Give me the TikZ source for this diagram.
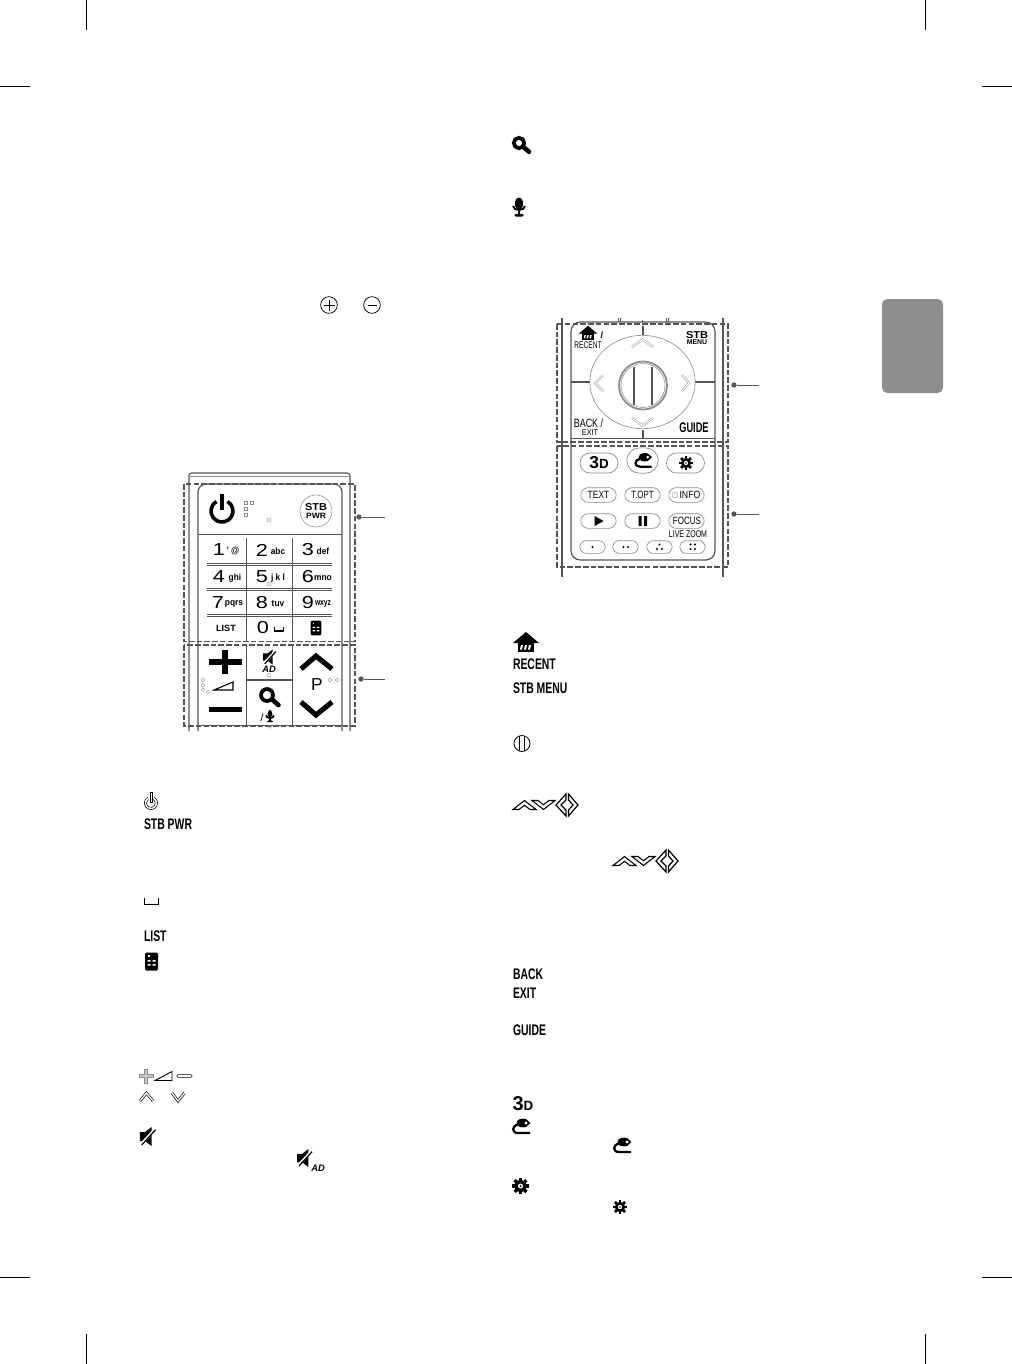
\documentclass[tikz,border=0pt]{standalone}
\usepackage{fontspec}
\setmainfont{Liberation Sans}
\usetikzlibrary{shapes.geometric,shapes.misc}
\definecolor{tabgray}{HTML}{8F8E8E}
\definecolor{linegray}{HTML}{555555}
\definecolor{softgray}{HTML}{8A8A8A}
\newcommand{\fs}[1]{\fontsize{#1}{#1}\selectfont}
\tikzset{
 crop/.style={draw=black,line width=.75pt},
 dashbox/.style={draw=linegray,line width=.9pt,dash pattern=on 4.2pt off 1.6pt},
 rem/.style={draw=linegray,line width=.9pt},
 remthin/.style={draw=linegray,line width=.55pt},
 softl/.style={draw=softgray,line width=.4pt},
 softchev/.style={draw=softgray,line width=.35pt,double=white,double distance=.9pt},
 blackchev/.style={draw=black,line width=.5pt,double=white,double distance=1pt,miter limit=4},
 txt/.style={inner sep=0pt,outer sep=0pt},
 lbl/.style={txt,anchor=west,font=\bfseries\fs{11.5},xscale=.68,transform shape},
 keytxt/.style={txt,font=\fs{13},xscale=1.25,transform shape},
 keysub/.style={txt,font=\bfseries\fs{6.8},xscale=.92,transform shape},
 ldot/.style={circle,fill=linegray,inner sep=0pt,minimum size=4pt},
 leader/.style={draw=linegray,line width=.6pt},
 pill/.style={draw=softgray,line width=.5pt,rounded rectangle,inner sep=0pt},
 tiny/.style={circle,draw=softgray,line width=.3pt,inner sep=0pt,minimum size=3pt},
 powersolid/.pic={
   \draw[line width=2.7pt] (5.5,-9.5) arc[start angle=-60,end angle=240,radius=11];
   \draw[line width=3.2pt] (0,-17) -- (0,-1);
 },
 poweroutline/.pic={
   \draw[line width=.4pt] (3.3,-5.7) arc[start angle=-60,end angle=240,radius=6.6];
   \draw[line width=.4pt] (2.4,-3.6) arc[start angle=-56,end angle=236,radius=4.4];
   \draw[line width=.4pt,fill=white] (-1,-10.5) rectangle (1,-.5);
 },
 book/.pic={
   \fill[rounded corners=1pt] (-6.5,-9) rectangle (6.5,9);
   \fill[white] (-4,-6.5) rectangle (-2,-4.5);
   \fill[white] (-4,-1.5) rectangle (-1,.2) (1,-1.5) rectangle (4,.2);
   \fill[white] (-4,2.5) rectangle (-1,4.2) (1,2.5) rectangle (4,4.2);
 },
 spacegl/.pic={\draw[line width=1pt] (-7,-3.5) -- (-7,3.2) -- (7,3.2) -- (7,-3.5);},
 mute/.pic={
   \fill (-8,-5) -- (-2,-5) -- (5,-10.5) -- (5,10.5) -- (-2,5) -- (-8,5) -- cycle;
   \draw[white,line width=2pt] (-6,8) -- (9,-8);
   \draw[line width=.9pt] (-6,9.5) -- (9.5,-7.5);
 },
 magnifier/.pic={
   \draw[line width=2.8pt] (0,0) circle (5.2);
   \draw[line width=3.4pt,line cap=round] (4.8,4.2) -- (10,8.8);
 },
 micro/.pic={
   \fill[rounded corners=3pt] (-4,-10) rectangle (4,3);
   \draw[line width=1.4pt] (-6.3,-1) .. controls (-6,4.5) and (6,4.5) .. (6.3,-1);
   \fill (-1.2,4) rectangle (1.2,8);
   \fill[rounded corners=1pt] (-5,7.5) rectangle (5,10);
 },
 home/.pic={
   \fill (-13,1) -- (0,-10) -- (13,1) -- cycle;
   \fill (-8,0) rectangle (8,10);
   \foreach \i in {-4,0,4} {\fill[white] (\i-1,3) -- (\i+1,3) -- (\i,7.5) -- (\i-2,7.5) -- cycle;}
 },
 ring/.pic={
   \draw[line width=.6pt] (0,0) circle (8);
   \draw[line width=.5pt] (-2.5,-7.5) -- (-2.5,7.5) (2.5,-7.5) -- (2.5,7.5);
 },
 avgl/.pic={
   \draw[line width=.8pt,miter limit=6] (0,4.5) -- (11.5,-4.5) -- (23,4.5) -- (17,4.5) -- (11.5,.3) -- (6,4.5) -- cycle;
   \draw[line width=.8pt,miter limit=6] (19,-4.5) -- (25,-4.5) -- (30.5,-.3) -- (36,-4.5) -- (42,-4.5) -- (30.5,4.5) -- cycle;
   \draw[line width=.9pt] (53,-11) -- (43,0) -- (53,11) -- (53,5) -- (48,0) -- (53,-5) -- cycle;
   \draw[line width=.9pt] (55.5,-11) -- (65,0) -- (55.5,11) -- (55.5,5) -- (60,0) -- (55.5,-5) -- cycle;
 },
 gearic/.pic={
   \fill (0,0) circle (6);
   \foreach \a in {0,45,...,135} {\fill[rotate=\a] (-1.6,-8.3) rectangle (1.6,8.3);}
   \fill[white] (0,0) circle (2.5);
   \fill (0,0) circle (1);
 },
 cham/.pic={
   \fill (-4.5,-4) .. controls (-4.5,-8.5) and (2,-8.8) .. (5,-8) -- (9.5,-4) -- (5,0) .. controls (2,.8) and (-4.5,.5) .. (-4.5,-4) -- cycle;
   \fill[white] (5,-4) circle (1.6);
   \draw[line width=1.7pt] (-3,-2.5) .. controls (-9.5,-1) and (-9.5,6) .. (-3,6) -- (9,6);
 },
 bigplus/.pic={
   \fill (-16.5,-3.2) rectangle (16.5,3.2);
   \fill (-3.2,-12) rectangle (3.2,12);
 }
}
\begin{document}
\begin{tikzpicture}[x=.75pt,y=-.75pt,line join=miter]
\useasboundingbox (0,0) rectangle (1012,1364);
\fill[white] (0,0) rectangle (1012,1364);
% crop marks
\coordinate (c1) at (86.5,0); \coordinate (c1e) at (86.5,30); \draw[crop] (c1)--(c1e);
\coordinate (c2) at (0,86.5); \coordinate (c2e) at (30,86.5); \draw[crop] (c2)--(c2e);
\coordinate (c3) at (925.5,0); \coordinate (c3e) at (925.5,30); \draw[crop] (c3)--(c3e);
\coordinate (c4) at (982,86.5); \coordinate (c4e) at (1012,86.5); \draw[crop] (c4)--(c4e);
\coordinate (c5) at (0,1277); \coordinate (c5e) at (30,1277); \draw[crop] (c5)--(c5e);
\coordinate (c6) at (86.5,1334); \coordinate (c6e) at (86.5,1364); \draw[crop] (c6)--(c6e);
\coordinate (c7) at (982,1277); \coordinate (c7e) at (1012,1277); \draw[crop] (c7)--(c7e);
\coordinate (c8) at (925.5,1334); \coordinate (c8e) at (925.5,1364); \draw[crop] (c8)--(c8e);
% tab
\fill[tabgray,rounded corners=4pt] (882,299) rectangle (943,393);

% ---------- left remote ----------
\draw[rem,rounded corners=2pt] (189,731) -- (189,473) -- (350,473) -- (350,731);
\draw[softl] (190,476) -- (349,476);
\draw[rem,rounded corners=6pt] (198,731) -- (198,484) -- (342,484) -- (342,731);
\draw[remthin] (198,534) -- (342,534);
\draw[rem] (246.5,538) -- (246.5,641) (292.5,538) -- (292.5,641);
\draw[rem] (246.5,646) -- (246.5,725) (292.5,646) -- (292.5,725);
\draw[remthin] (207,563.5) -- (332,563.5) (207,565.5) -- (332,565.5);
\draw[remthin] (207,588.5) -- (332,588.5) (207,590.5) -- (332,590.5);
\draw[remthin] (207,614.5) -- (332,614.5) (207,616.5) -- (332,616.5);
\draw[rem] (247,680) -- (292,680);
\draw[rem] (198,725.5) -- (342,725.5);
\draw[dashbox] (184,484) rectangle (355,641.5);
\draw[dashbox] (184,645) rectangle (355,726);
\pic at (222,511) {powersolid};
\foreach \p/\q in {246/503,251.5/503,246/509,246/515} {\draw[softl] (\p-1.5,\q-1.5) rectangle (\p+1.5,\q+1.5);}
\node[tiny] (lind) at (269,520) {};
\node[circle,draw=softgray,line width=.4pt,minimum size=24pt,inner sep=0pt] (stbcirc) at (316,511) {};
\node[txt,font=\bfseries\fs{7.5},xscale=1.1,transform shape] (stb1) at (316,507) {STB};
\node[txt,font=\bfseries\fs{5.8},xscale=1.1,transform shape] (stb2) at (316,515.5) {PWR};
% keypad
\node[keytxt] (k1) at (219,550) {1};
\node[keysub] (k1s) at (233,551) {' @};
\node[keytxt] (k2) at (262,550) {2};
\node[keysub] (k2s) at (278,551) {abc};
\node[keytxt] (k3) at (308,550) {3};
\node[keysub] (k3s) at (323,551) {def};
\node[keytxt] (k4) at (219,577) {4};
\node[keysub] (k4s) at (235,578) {ghi};
\node[keytxt] (k5) at (262,577) {5};
\node[keysub] (k5s) at (278,578) {j k l};
\node[keytxt] (k6) at (308,577) {6};
\node[keysub] (k6s) at (323,578) {mno};
\node[keytxt] (k7) at (218,603) {7};
\node[keysub] (k7s) at (234,604) {pqrs};
\node[keytxt] (k8) at (262,603) {8};
\node[keysub] (k8s) at (278,604) {tuv};
\node[keytxt] (k9) at (308,603) {9};
\node[keysub,xscale=.8] (k9s) at (323,604) {wxyz};
\node[txt,font=\bfseries\fs{6.8}] (klist) at (226,628) {LIST};
\node[keytxt] (k0) at (263,628) {0};
\pic[scale=.6] at (279,629) {spacegl};
\pic[scale=.82] at (316,628) {book};
\node[tiny] (l5) at (269,584) {};
% lower section
\pic at (225,662) {bigplus};
\fill (208.5,706.5) rectangle (241.5,711.5);
\draw[line width=.8pt] (214,690) -- (233,682) -- (233,690) -- cycle;
\foreach \p/\q in {203/680,203/685,203/690,208/692,330/680,337/680} {\node[tiny,minimum size=2.8pt] (d\p\q) at (\p,\q) {};}
\pic[scale=.72] at (269,657) {mute};
\node[txt,font=\bfseries\itshape\fs{7}] (mad) at (269,669) {AD};
\node[tiny] (l6) at (269,675) {};
\pic[scale=1.15] at (267,695) {magnifier};
\node[txt,font=\fs{8}] (mslash) at (262,718) {/};
\pic[scale=.62] at (270,716) {micro};
\draw[line width=3.8pt,miter limit=6] (301,669) -- (316,656) -- (332,669);
\draw[line width=3.8pt,miter limit=6] (301,702) -- (316,715) -- (332,702);
\node[txt,font=\fs{13}] (pkey) at (317,685) {P};
\node[tiny,minimum size=2pt] (l7) at (270,727) {};
\node[ldot] (la) at (359,517) {}; \coordinate (lae) at (385,517); \draw[leader] (la)--(lae);
\node[ldot] (lb) at (361,679) {}; \coordinate (lbe) at (385,679); \draw[leader] (lb)--(lbe);

% ---------- right remote ----------
\draw[rem] (562,318) -- (562,577) (723,318) -- (723,577);
\draw[remthin] (618,318) -- (618,322) (620,318) -- (620,322) (666,318) -- (666,322) (668,318) -- (668,322) (642,320) -- (642,322);
\draw[rem,rounded corners=7pt] (571,322) -- (571,560) -- (715,560) -- (715,322) -- cycle;
\draw[remthin] (571,438) -- (715,438);
\draw[dashbox] (557,324) rectangle (728,442);
\draw[dashbox] (557,446) rectangle (728,567);
\draw[rem] (643,326) -- (643,335) (643,430) -- (643,438) (571,382) -- (590,382) (695,382) -- (715,382);
\node[ellipse,draw=softgray,line width=.45pt,minimum width=79pt,minimum height=70pt,inner sep=0pt] (wheel) at (642.5,382) {};
\node[circle,draw=softgray,line width=1.3pt,minimum size=36pt,inner sep=0pt] (okr) at (643,385.5) {};
\node[circle,draw=softgray,line width=.4pt,minimum size=33pt,inner sep=0pt] (oki) at (643,385.5) {};
\draw[line width=1pt,draw=linegray] (634,367) -- (634,405) (652,367) -- (652,405);
\draw[softchev] (632,347) -- (642.5,339.5) -- (653,347);
\draw[softchev] (632,418) -- (642.5,425.5) -- (653,418);
\draw[softchev] (603,375) -- (595,383) -- (603,391);
\draw[softchev] (682,375) -- (689,383) -- (682,391);
\pic[scale=.72] at (588,333) {home};
\node[txt,font=\bfseries\fs{7}] (rslash) at (602,335) {/};
\node[txt,font=\fs{7.3},xscale=.68,transform shape] (rrecent) at (588,345.5) {RECENT};
\node[txt,font=\bfseries\fs{7.5},xscale=1.1,transform shape] (rstb) at (697,335) {STB};
\node[txt,font=\bfseries\fs{5.2}] (rmenu) at (697,342.5) {MENU};
\node[txt,font=\fs{9},xscale=.74,transform shape] (rback) at (588.5,423) {BACK /};
\node[txt,font=\fs{6.3},xscale=.87,transform shape] (rexit) at (590,432.5) {EXIT};
\node[txt,font=\bfseries\fs{10.5},xscale=.66,transform shape] (rguide) at (694,428) {GUIDE};
% buttons
\node[pill,minimum width=28.5pt,minimum height=15pt] (b3d) at (599,463) {};
\node[txt,font=\bfseries\fs{13}] (b3dt) at (599,463) {3\fs{10}D};
\node[pill,minimum width=23.5pt,minimum height=19pt] (bch) at (642.5,460.5) {};
\pic[scale=.95] at (643,461) {cham};
\node[pill,minimum width=28.5pt,minimum height=15pt] (bgear) at (685.5,463) {};
\pic[scale=.85] at (686,463) {gearic};
\node[pill,minimum width=26.5pt,minimum height=11pt] (btext) at (598.5,495) {};
\node[txt,font=\fs{7.9},xscale=.8,transform shape] (btextt) at (598.5,495) {TEXT};
\node[pill,minimum width=26.5pt,minimum height=11pt] (btopt) at (642.5,495) {};
\node[txt,font=\fs{7.9},xscale=.75,transform shape] (btoptt) at (642.5,495) {T.OPT};
\node[pill,minimum width=26.5pt,minimum height=11pt] (binfo) at (686.5,495) {};
\node[txt,font=\fs{7.9},xscale=.83,transform shape] (binfot) at (690,495) {INFO};
\node[circle,draw=softgray,line width=.3pt,minimum size=4.5pt,inner sep=0pt] (binfoc) at (675,495) {};
\node[pill,minimum width=26.5pt,minimum height=11pt] (bplay) at (598.5,521) {};
\fill (594.5,516) -- (603.5,521) -- (594.5,526) -- cycle;
\node[pill,minimum width=26.5pt,minimum height=11pt] (bpause) at (642.5,521) {};
\fill (638.5,516) rectangle (641.5,526) (644,516) rectangle (647,526);
\node[pill,minimum width=26.5pt,minimum height=11pt] (bfocus) at (686.5,521) {};
\node[txt,font=\fs{7.9},xscale=.76,transform shape] (bfocust) at (687,521) {FOCUS};
\node[txt,font=\fs{7.3},xscale=.72,transform shape] (blive) at (688,534) {LIVE ZOOM};
\node[pill,minimum width=19pt,minimum height=9.5pt] (bd1) at (592.5,547) {};
\node[pill,minimum width=19pt,minimum height=9.5pt] (bd2) at (625.5,547) {};
\node[pill,minimum width=19pt,minimum height=9.5pt] (bd3) at (659.5,547) {};
\node[pill,minimum width=19pt,minimum height=9.5pt] (bd4) at (692.5,547) {};
\fill (592.5,547) circle (1.2);
\fill (623.5,547) circle (1.2) (628,547) circle (1.2);
\fill (659.5,544.5) circle (1.2) (657,549) circle (1.2) (662,549) circle (1.2);
\fill (690.5,544.5) circle (1.2) (695,544.5) circle (1.2) (690.5,549) circle (1.2) (695,549) circle (1.2);
\node[ldot] (lc) at (734,385) {}; \coordinate (lce) at (759,385); \draw[leader] (lc)--(lce);
\node[ldot] (ld) at (734,514) {}; \coordinate (lde) at (759,514); \draw[leader] (ld)--(lde);

% ---------- left legend ----------
\node[circle,draw=black,line width=.55pt,minimum size=12.5pt,inner sep=0pt] (cplus) at (329,305) {};
\draw[line width=.55pt] (323.5,305) -- (334.5,305) (329,299.5) -- (329,310.5);
\node[circle,draw=black,line width=.55pt,minimum size=12.5pt,inner sep=0pt] (cminus) at (372,305) {};
\draw[line width=.55pt] (367.5,305) -- (376.5,305);
\pic at (151,803) {poweroutline};
\node[lbl] (tstb) at (144,824) {STB PWR};
\pic at (151.5,901) {spacegl};
\node[lbl] (tlist) at (144,936) {LIST};
\pic at (151.5,961.5) {book};
% plus/vol/minus
\draw[line width=.3pt,draw=softgray,fill=softgray!45] (139,1074.5) -- (144.5,1074.5) -- (144.5,1069) -- (147.5,1069) -- (147.5,1074.5) -- (153,1074.5) -- (153,1077.5) -- (147.5,1077.5) -- (147.5,1083) -- (144.5,1083) -- (144.5,1077.5) -- (139,1077.5) -- cycle;
\draw[line width=.7pt] (155,1080.5) -- (172,1071.5) -- (172,1080.5) -- cycle;
\draw[line width=.4pt,rounded corners=.7pt] (177,1074.7) rectangle (192,1077.3);
\draw[blackchev] (140,1101) -- (146.5,1093) -- (153,1101);
\draw[blackchev] (172,1093) -- (178,1101) -- (184.5,1093);
\pic[scale=.9] at (147,1136.5) {mute};
\pic[scale=.85] at (304,1158) {mute};
\node[txt,font=\bfseries\itshape\fs{7}] (tad) at (318,1168) {AD};

% ---------- right legend ----------
\pic at (519,143) {magnifier};
\pic[scale=.95] at (519,207) {micro};
\pic at (526,642) {home};
\node[lbl] (trecent) at (513,664) {RECENT};
\node[lbl] (tmenu) at (513,688) {STB MENU};
\pic at (522,743.5) {ring};
\pic at (513,805) {avgl};
\pic at (613,861) {avgl};
\node[lbl] (tback) at (513,974) {BACK};
\node[lbl] (texit) at (513,993) {EXIT};
\node[lbl] (tguide) at (513,1030) {GUIDE};
\node[txt,anchor=west,font=\bfseries\fs{15}] (t3d) at (512.5,1104) {3\fs{10}D};
\pic at (521,1127) {cham};
\pic at (622,1146) {cham};
\pic at (520.5,1186) {gearic};
\pic[scale=.87] at (620,1207) {gearic};
\end{tikzpicture}
\end{document}
